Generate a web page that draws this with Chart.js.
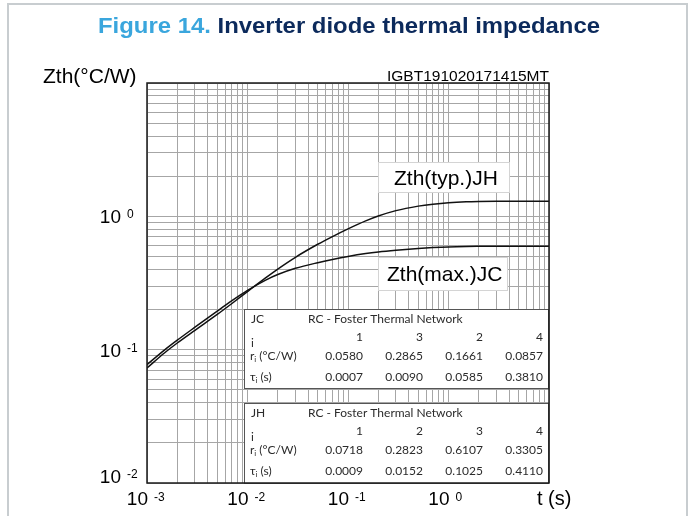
<!DOCTYPE html>
<html>
<head>
<meta charset="utf-8">
<script src="https://cdn.jsdelivr.net/npm/chart.js@4.4.0/dist/chart.umd.min.js"></script>
<style>
  html, body { margin: 0; padding: 0; background: #fff; }
  #wrap { width: 696px; height: 516px; position: relative; }
</style>
</head>
<body>
<div id="wrap"><canvas id="zthChart" width="696" height="516"></canvas></div>
<script>
// time points (s)
const timeS = [0.001, 0.0015, 0.002, 0.003, 0.005, 0.007, 0.01, 0.015, 0.02, 0.03, 0.05, 0.07,
               0.1, 0.15, 0.2, 0.3, 0.5, 0.7, 1, 1.5, 2, 3, 5, 10];
// Zth(typ.)JH
const zthTypJH = [0.0729, 0.0948, 0.1122, 0.1398, 0.1837, 0.2219, 0.2727, 0.3438, 0.4024, 0.4932, 0.6172, 0.7053,
                  0.8056, 0.9246, 1.0054, 1.1033, 1.1927, 1.2344, 1.2663, 1.2867, 1.2928, 1.2951, 1.2953, 1.2953];
// Zth(max.)JC
const zthMaxJC = [0.0773, 0.0997, 0.1178, 0.1474, 0.1948, 0.2332, 0.2785, 0.3313, 0.3659, 0.4074, 0.4493, 0.4748,
                  0.5003, 0.5257, 0.5402, 0.5563, 0.5732, 0.5826, 0.5901, 0.5946, 0.5958, 0.5962, 0.5963, 0.5963];

// axis ticks (powers of ten) and grid multipliers
const xTickExps = [-3, -2, -1, 0];
const yTickExps = [-2, -1, 0];
const gridMult = [1, 2, 3, 4, 5, 6, 7, 8, 9];

// RC Foster tables
const jcIndex = ['1', '3', '2', '4'];
const jcR = ['0.0580', '0.2865', '0.1661', '0.0857'];
const jcTau = ['0.0007', '0.0090', '0.0585', '0.3810'];
const jhIndex = ['1', '2', '3', '4'];
const jhR = ['0.0718', '0.2823', '0.6107', '0.3305'];
const jhTau = ['0.0009', '0.0152', '0.1025', '0.4110'];

const ARIAL = '"Liberation Sans", Arial, sans-serif';
const TABLE_FONT = 'Lato, "Open Sans", sans-serif';

function gridValues(minExp, maxExp) {
  const vals = [];
  for (let e = minExp; e < maxExp; e++) {
    gridMult.forEach(m => vals.push(m * Math.pow(10, e)));
  }
  vals.push(Math.pow(10, maxExp));
  return vals;
}

function text(ctx, s, x, y, font, color, align) {
  ctx.font = font;
  ctx.fillStyle = color;
  ctx.textAlign = align || 'left';
  ctx.fillText(s, x, y);
}

// "10" with a raised exponent; xRight = right edge of "10"
function drawPow(ctx, xRight, baseline, exp, supDrop) {
  ctx.textBaseline = 'alphabetic';
  text(ctx, '10', xRight, baseline, '19px ' + ARIAL, '#000', 'right');
  text(ctx, String(exp), xRight + 6, baseline - supDrop, '12px ' + ARIAL, '#000', 'left');
}

function drawTable(ctx, top, name, idx, r, tau) {
  const left = 244, width = 304, height = top === 309 ? 79 : 80;
  ctx.fillStyle = '#fff';
  ctx.fillRect(left, top, width, height);
  ctx.strokeStyle = '#555';
  ctx.lineWidth = 1;
  ctx.strokeRect(left + 0.5, top + 0.5, width, height);

  const f = '12px ' + TABLE_FONT, fs = '8px ' + TABLE_FONT, col = '#2b2b2b';
  const cols = [363, 423, 483, 543];
  ctx.textBaseline = 'middle';
  text(ctx, name, 251, top + 10, f, col);
  text(ctx, 'RC - Foster Thermal Network', 308, top + 10, f, col);
  text(ctx, 'i', 251, top + 34, f, col);
  // r_i (°C/W)
  text(ctx, 'r', 250, top + 47, f, col);
  let w = ctx.measureText('r').width;
  text(ctx, 'i', 250 + w, top + 50, fs, col);
  ctx.font = fs;
  let w2 = ctx.measureText('i').width;
  text(ctx, ' (°C/W)', 250 + w + w2, top + 47, f, col);
  // tau_i (s)
  text(ctx, 'τ', 250, top + 68, f, col);
  w = ctx.measureText('τ').width;
  text(ctx, 'i', 250 + w, top + 71, fs, col);
  ctx.font = fs;
  w2 = ctx.measureText('i').width;
  text(ctx, ' (s)', 250 + w + w2, top + 68, f, col);

  cols.forEach((cx, k) => {
    text(ctx, idx[k], cx, top + 28, f, col, 'right');
    text(ctx, r[k], cx, top + 47, f, col, 'right');
    text(ctx, tau[k], cx, top + 68, f, col, 'right');
  });
}

function labelBox(ctx, x, y, w, h, s, tx, ty) {
  ctx.fillStyle = '#fff';
  ctx.fillRect(x, y, w, h);
  ctx.strokeStyle = '#d4d4d4';
  ctx.lineWidth = 1;
  ctx.strokeRect(x + 0.5, y + 0.5, w, h);
  ctx.textBaseline = 'alphabetic';
  text(ctx, s, tx, ty, '21px ' + ARIAL, '#000', 'left');
}

const overlayPlugin = {
  id: 'overlay',
  beforeDatasetsDraw(chart) {
    const ctx = chart.ctx;
    ctx.save();
    labelBox(ctx, 378, 162, 131, 30, 'Zth(typ.)JH', 394, 185);
    labelBox(ctx, 378, 257, 129, 33, 'Zth(max.)JC', 387, 281);
    drawTable(ctx, 309, 'JC', jcIndex, jcR, jcTau);
    drawTable(ctx, 403, 'JH', jhIndex, jhR, jhTau);
    ctx.restore();
  },
  afterDraw(chart) {
    const ctx = chart.ctx;
    const a = chart.chartArea;
    const xs = chart.scales.x, ys = chart.scales.y;
    ctx.save();

    // figure frame
    ctx.strokeStyle = '#c8cdd0';
    ctx.lineWidth = 2;
    ctx.beginPath();
    ctx.moveTo(8, 516); ctx.lineTo(8, 4); ctx.lineTo(687, 4); ctx.lineTo(687, 516);
    ctx.stroke();

    // title
    ctx.textBaseline = 'alphabetic';
    ctx.font = 'bold 22px ' + ARIAL;
    const p1 = 'Figure 14. ', p2 = 'Inverter diode thermal impedance';
    const w1 = ctx.measureText(p1).width, wAll = ctx.measureText(p1 + p2).width;
    ctx.save();
    ctx.translate(98, 33);
    ctx.scale(502 / wAll, 1);
    text(ctx, p1, 0, 0, 'bold 22px ' + ARIAL, '#3aa6dd');
    text(ctx, p2, w1, 0, 'bold 22px ' + ARIAL, '#0c2a5c');
    ctx.restore();

    // plot frame
    ctx.strokeStyle = '#1a1a1a';
    ctx.lineWidth = 1.5;
    ctx.strokeRect(a.left, a.top, a.right - a.left, a.bottom - a.top);

    // axis titles and code
    text(ctx, 'Zth(°C/W)', 43, 83, '21px ' + ARIAL, '#000');
    text(ctx, 'IGBT191020171415MT', a.right, 81, '15.5px ' + ARIAL, '#000', 'right');
    text(ctx, 't (s)', 537, 505, '20px ' + ARIAL, '#000');

    // x tick labels
    xTickExps.forEach(e => {
      const px = xs.getPixelForValue(Math.pow(10, e));
      drawPow(ctx, px + 1, 505, e, 4);
    });
    // y tick labels
    yTickExps.forEach(e => {
      const py = ys.getPixelForValue(Math.pow(10, e));
      const base = e === -2 ? py : py + 7;
      drawPow(ctx, 121, base, e, 5);
    });
    ctx.restore();
  }
};

const gridOpts = { color: '#a6a6a6', lineWidth: 1, drawTicks: false };

new Chart(document.getElementById('zthChart'), {
  type: 'scatter',
  data: {
    datasets: [
      {
        label: 'Zth(typ.)JH',
        data: timeS.map((t, i) => ({ x: t, y: zthTypJH[i] })),
        showLine: true,
        borderColor: '#111',
        borderWidth: 1.5,
        pointRadius: 0,
        cubicInterpolationMode: 'monotone'
      },
      {
        label: 'Zth(max.)JC',
        data: timeS.map((t, i) => ({ x: t, y: zthMaxJC[i] })),
        showLine: true,
        borderColor: '#111',
        borderWidth: 1.5,
        pointRadius: 0,
        cubicInterpolationMode: 'monotone'
      }
    ]
  },
  options: {
    responsive: false,
    animation: false,
    devicePixelRatio: 1,
    layout: { padding: { left: 147, right: 147, top: 83, bottom: 33 } },
    plugins: { legend: { display: false }, tooltip: { enabled: false } },
    scales: {
      x: {
        type: 'logarithmic',
        min: 1e-3,
        max: 10,
        grid: gridOpts,
        border: { display: false },
        ticks: { display: false },
        afterBuildTicks: s => { s.ticks = gridValues(-3, 1).map(v => ({ value: v })); }
      },
      y: {
        type: 'logarithmic',
        min: 1e-2,
        max: 10,
        grid: gridOpts,
        border: { display: false },
        ticks: { display: false },
        afterBuildTicks: s => { s.ticks = gridValues(-2, 1).map(v => ({ value: v })); }
      }
    }
  },
  plugins: [overlayPlugin]
});
</script>
</body>
</html>
